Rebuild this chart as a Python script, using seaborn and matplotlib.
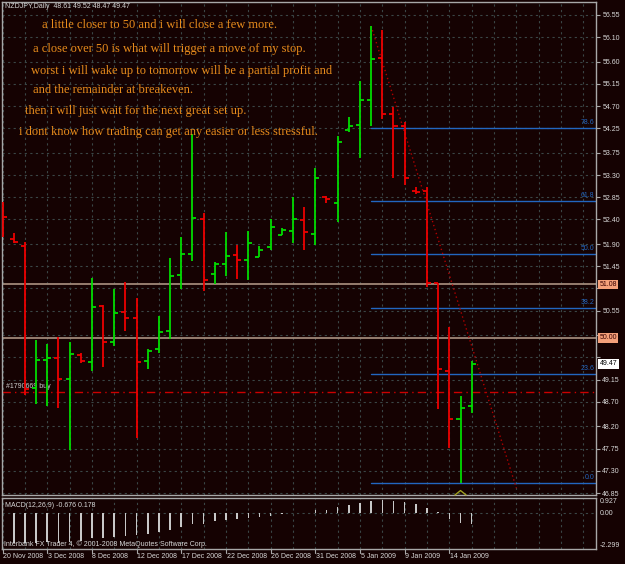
import numpy as np
import pandas as pd
import matplotlib
matplotlib.use("Agg")
import matplotlib.pyplot as plt
import matplotlib.transforms as mtransforms
import seaborn as sns

# ---------------- data ----------------
symbol_header = "NZDJPY,Daily  48.61 49.52 48.47 49.47"
opens = [52.67, 52.01, 51.87, 48.99, 49.54, 49.58, 49.17, 49.64, 49.50, 50.64, 49.91,
         50.52, 50.40, 49.52, 49.77, 50.13, 51.28, 51.69, 52.40, 51.30, 51.50, 51.68,
         51.58, 51.64, 51.85, 52.09, 52.17, 52.38, 52.11, 52.85, 52.74, 54.21, 54.32,
         54.83, 55.68, 54.54, 54.30, 52.97, 52.97, 51.11, 49.32, 48.36, 48.61]
highs = [52.75, 52.13, 51.95, 49.95, 49.87, 50.01, 49.91, 49.70, 51.21, 50.66, 50.99,
         51.13, 50.81, 49.77, 50.44, 51.62, 52.05, 54.13, 52.54, 51.54, 52.15, 51.89,
         52.17, 51.87, 52.40, 52.23, 52.85, 52.66, 53.44, 52.87, 54.09, 54.48, 55.21,
         56.32, 56.24, 54.68, 54.38, 53.05, 53.05, 51.11, 50.21, 48.81, 49.52]
lows = [52.05, 51.93, 48.83, 48.66, 48.62, 48.58, 47.73, 49.48, 49.32, 49.40, 49.83,
        50.13, 47.97, 49.36, 49.70, 49.97, 50.99, 51.56, 50.95, 51.09, 51.26, 51.19,
        51.17, 51.64, 51.78, 52.09, 51.93, 51.78, 51.89, 52.73, 52.34, 54.17, 53.64,
        54.30, 54.44, 53.23, 53.09, 52.91, 51.03, 48.56, 47.77, 47.05, 48.47]
closes = [52.44, 51.95, 48.97, 49.54, 49.58, 49.17, 49.66, 49.52, 50.62, 49.91, 50.50,
          50.40, 49.50, 49.73, 50.11, 51.26, 51.69, 52.42, 51.17, 51.50, 51.66, 51.58,
          51.93, 51.78, 52.25, 52.19, 52.40, 52.15, 53.24, 52.81, 53.97, 54.30, 54.83,
          55.66, 54.54, 54.30, 53.23, 52.96, 51.11, 49.36, 48.36, 48.58, 49.47]
macd_hist = [-1.95, -1.92, -1.92, -1.90, -1.88, -1.90, -1.83, -1.82, -1.62, -1.58, -1.55,
             -1.45, -1.43, -1.33, -1.22, -1.12, -0.91, -0.72, -0.72, -0.54, -0.49, -0.39,
             -0.32, -0.27, -0.18, -0.11, -0.05, -0.02, 0.15, 0.19, 0.36, 0.46, 0.61,
             0.72, 0.78, 0.74, 0.68, 0.57, 0.32, 0.02, -0.42, -0.63, -0.72]
date_labels = ["20 Nov 2008", "3 Dec 2008", "8 Dec 2008", "12 Dec 2008", "17 Dec 2008",
               "22 Dec 2008", "26 Dec 2008", "31 Dec 2008", "5 Jan 2009", "9 Jan 2009",
               "14 Jan 2009"]
date_label_bars = [0, 4, 8, 12, 16, 20, 24, 28, 32, 36, 40]
price_ticks = [56.55, 56.10, 55.60, 55.15, 54.70, 54.25, 53.75, 53.30, 52.85, 52.40, 51.90,
               51.45, 51.00, 50.55, 50.05, 49.60, 49.15, 48.70, 48.20, 47.75, 47.30, 46.85]
hidden_ticks = [51.00, 50.05, 49.60]
fib_labels = ["0.0", "23.6", "38.2", "50.0", "61.8", "78.6"]
fib_prices = [47.05, 49.26, 50.60, 51.70, 52.77, 54.25]
fib_start_bar = 33
level_lines = [51.08, 50.00]
level_labels = ["51.08", "50.00"]
order_price = 48.89
order_label = "#1790669 buy"
last_price = 49.47
trend_bars = [33, 46]
trend_prices = [56.32, 46.95]
arrow_bar = 41
notes = ["a little closer to 50 and i will close a few more.",
         "a close over 50 is what will trigger a move of my stop.",
         "worst i will wake up to tomorrow will be a partial profit and",
         "and the remainder at breakeven.",
         "then i will just wait for the next great set up.",
         "i dont know how trading can get any easier or less stressful."]
macd_title = "MACD(12,26,9) -0.676 0.178"
macd_ticks = [0.927, 0.00, -2.299]
copyright_txt = "Interbank FX Trader 4, \u00a9 2001-2008 MetaQuotes Software Corp."

# ---------------- style ----------------
BG = "#150202"
GRID = "#3a4646"
TXT = "#d8d8d8"
UP = "#00dc00"
DN = "#ee0000"
FIB = "#2266c0"
LEVEL = "#a08878"

sns.set_style("dark", {"axes.facecolor": BG, "figure.facecolor": BG})
plt.rcParams["font.family"] = ["Liberation Sans", "DejaVu Sans"]

W, H = 625, 564
fig = plt.figure(figsize=(W / 100, H / 100), dpi=100)
fig.patch.set_facecolor(BG)

def fbox(x0, y0, x1, y1):
    return [x0 / W, 1 - y1 / H, (x1 - x0) / W, (y1 - y0) / H]

ax = fig.add_axes(fbox(2, 2, 596, 495))
ax2 = fig.add_axes(fbox(2, 498, 596, 549), sharex=ax)

XMIN, XMAX = -0.05, 53.13
YMIN, YMAX = 46.81, 56.81

df = pd.DataFrame({"bar": np.arange(len(opens)), "open": opens, "high": highs,
                   "low": lows, "close": closes})
df["color"] = np.where(df["close"] >= df["open"], UP, DN)

for a in (ax, ax2):
    a.set_facecolor(BG)
    for s in a.spines.values():
        s.set_color("#a8a8a8")
        s.set_linewidth(1.0)
    a.set_xticks(np.arange(0, 54, 2))
    a.grid(True, color=GRID, linestyle=(0, (2, 3)), linewidth=0.8)
    a.set_axisbelow(True)

# ---------------- main panel ----------------
ax.set_xlim(XMIN, XMAX)
ax.set_ylim(YMIN, YMAX)

# fib lines
for lab, p in zip(fib_labels, fib_prices):
    ax.plot([fib_start_bar, XMAX], [p, p], color=FIB, lw=1.0, zorder=2)
    ax.text(XMAX - 0.15, p + 0.04, lab, color=FIB, fontsize=5, ha="right", va="bottom", zorder=3)

# horizontal levels
for p in level_lines:
    ax.axhline(p, color=LEVEL, lw=1.3, zorder=2)
ax.axhline(order_price, color="#cc0000", lw=1.0, linestyle=(0, (6, 3, 1, 3)), zorder=2)
ax.text(0.3, order_price + 0.05, order_label, color="#cfcfcf", fontsize=5, va="bottom", zorder=4)

# trend line (dotted)
sns.lineplot(x=trend_bars, y=trend_prices, ax=ax, color="#b00000", lw=1.0,
             linestyle=(0, (1, 2)), zorder=3)

# OHLC bars
ax.vlines(df["bar"], df["low"], df["high"], colors=df["color"], lw=1.3, zorder=5)
ax.hlines(df["open"], df["bar"] - 0.36, df["bar"], colors=df["color"], lw=1.3, zorder=5)
ax.hlines(df["close"], df["bar"], df["bar"] + 0.36, colors=df["color"], lw=1.3, zorder=5)

# arrow mark (caret)
ax.plot([arrow_bar - 0.5, arrow_bar, arrow_bar + 0.5], [YMIN, YMIN + 0.09, YMIN],
        color="#a0a020", lw=1.0, clip_on=False, zorder=6)

# y ticks on right
ax.yaxis.tick_right()
ax.set_yticks(price_ticks)
ax.set_yticklabels(["" if t in hidden_ticks else f"{t:.2f}" for t in price_ticks])
ax.tick_params(axis="y", colors="#a8a8a8", labelcolor=TXT, labelsize=5, length=3,
               width=0.8, pad=1.5, direction="out")
ax.tick_params(axis="x", length=0, labelbottom=False)
ax.set_xlabel("")
ax.set_ylabel("")

# price boxes on right
tr = mtransforms.blended_transform_factory(ax.transAxes, ax.transData)
for p, lab in zip(level_lines, level_labels):
    ax.text(1.006, p, lab, transform=tr, fontsize=5, color="#3a0000", ha="left", va="center",
            clip_on=False, zorder=10,
            bbox=dict(boxstyle="square,pad=0.2", fc="#f4a07a", ec="none"))
ax.text(1.006, last_price, f"{last_price:.2f}", transform=tr, fontsize=5, color="#000000",
        ha="left", va="center", clip_on=False, zorder=10,
        bbox=dict(boxstyle="square,pad=0.2", fc="#ffffff", ec="none"))

# header + notes
fig.text(5 / W, 1 - 7 / H, symbol_header, color=TXT, fontsize=5, ha="left", va="center")
note_pos = [(42, 25), (33, 49), (31, 71), (33, 90), (25, 111), (19, 132)]
for (nx, ny), s in zip(note_pos, notes):
    fig.text(nx / W, 1 - ny / H, s, color="#e88c1c", fontsize=9.0, ha="left", va="center",
             family=["Liberation Serif", "DejaVu Serif"])

# ---------------- MACD panel ----------------
mdf = pd.DataFrame({"bar": np.arange(len(macd_hist)), "macd": macd_hist})
sns.barplot(data=mdf, x="bar", y="macd", ax=ax2, native_scale=True, color="#c8c8c8",
            saturation=1, width=0.14, errorbar=None, linewidth=0)
ax2.set_xlim(XMIN, XMAX)
ax2.set_ylim(-2.299, 0.927)
ax2.yaxis.tick_right()
ax2.set_yticks(macd_ticks)
ax2.set_yticklabels([f"{macd_ticks[0]:.3f}", f"{macd_ticks[1]:.2f}", f"{macd_ticks[2]:.3f}"])
ax2.tick_params(axis="y", colors="#a8a8a8", labelcolor=TXT, labelsize=5, length=0, pad=3)
labs = ax2.get_yticklabels()
labs[0].set_va("top")
labs[2].set_va("bottom")
ax2.set_xlabel("")
ax2.set_ylabel("")
ax2.yaxis.grid(False)
ax2.axhline(0, color=GRID, linestyle=(0, (2, 3)), lw=0.8, zorder=0)

ax2.set_xticks(np.arange(0, 54, 2))
ax2.set_xticklabels([""] * 27)
ax2.tick_params(axis="x", length=0)
# date labels
trx = mtransforms.blended_transform_factory(ax2.transData, ax2.transAxes)
for b, lab in zip(date_label_bars, date_labels):
    ax2.text(b + 0.05, -0.14, lab, transform=trx, fontsize=5, color=TXT, ha="left",
             va="center", clip_on=False)
    ax2.plot([b, b], [0, -0.07], transform=trx, color="#a8a8a8", lw=0.8, clip_on=False)

ax2.text(0.005, 0.92, macd_title, transform=ax2.transAxes, fontsize=5, color=TXT,
         ha="left", va="top")
ax2.text(0.003, 0.02, copyright_txt, transform=ax2.transAxes, fontsize=5, color=TXT,
         ha="left", va="bottom")

fig.savefig("out.png", dpi=100, facecolor=BG)
